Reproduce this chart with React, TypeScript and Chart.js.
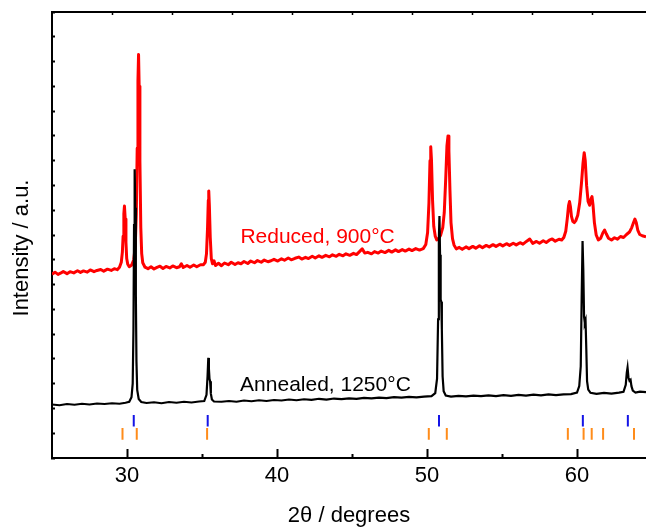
import React, { useEffect, useRef } from 'react';
import { Chart, registerables } from 'chart.js';

Chart.register(...registerables);

const FONT = '"Liberation Sans", Arial, Helvetica, sans-serif';

// Axis ranges and tick values
const X_MIN = 25;
const X_MAX = 64.6;
const Y_MIN = 0;
const Y_MAX = 18;
const majorXTicks = [30, 40, 50, 60];
const minorXTicks = [35, 45, 55];
const topXTicks = [29, 33, 37, 41, 45, 49, 53, 57, 61];
const leftYTicks = [0, 1, 2, 3, 4, 5, 6, 7, 8, 9, 10, 11, 12, 13, 14, 15, 16, 17, 18];

// Annealed, 1250°C pattern: [2θ, intensity]
const annealed: [number, number][] = [
  [25.0, 2.16], [25.5, 2.13], [26.0, 2.18], [26.5, 2.15], [27.0, 2.19], [27.5, 2.16], [28.0, 2.2], [28.5, 2.18],
  [29.0, 2.21], [29.5, 2.19], [29.9, 2.23], [30.15, 2.27], [30.3, 2.45], [30.38, 3.0], [30.43, 5.2], [30.47, 9.4],
  [30.51, 11.65], [30.55, 10.1], [30.59, 6.6], [30.63, 3.9], [30.68, 2.75], [30.78, 2.38], [30.95, 2.26], [31.3, 2.22],
  [31.8, 2.25], [32.3, 2.21], [32.8, 2.26], [33.3, 2.23], [33.8, 2.27], [34.3, 2.24], [34.8, 2.28], [35.15, 2.3],
  [35.3, 2.55], [35.37, 3.3], [35.42, 4.04], [35.46, 3.6], [35.5, 3.2], [35.54, 3.1], [35.59, 2.6], [35.66, 2.36],
  [35.8, 2.28], [36.3, 2.27], [36.8, 2.3], [37.3, 2.27], [37.8, 2.32], [38.3, 2.29], [38.8, 2.33], [39.3, 2.3],
  [39.8, 2.34], [40.3, 2.32], [40.8, 2.36], [41.3, 2.33], [41.8, 2.37], [42.3, 2.35], [42.8, 2.39], [43.3, 2.36],
  [43.8, 2.4], [44.3, 2.38], [44.8, 2.41], [45.3, 2.39], [45.8, 2.43], [46.3, 2.41], [46.8, 2.44], [47.3, 2.42],
  [47.8, 2.46], [48.3, 2.44], [48.8, 2.47], [49.3, 2.45], [49.8, 2.48], [50.3, 2.5], [50.55, 2.62], [50.67, 3.2],
  [50.74, 5.6], [50.79, 8.8], [50.83, 9.77], [50.87, 8.2], [50.91, 6.4], [50.95, 6.31], [50.99, 5.2], [51.04, 3.3],
  [51.11, 2.7], [51.25, 2.52], [51.6, 2.48], [52.1, 2.51], [52.6, 2.49], [53.1, 2.52], [53.6, 2.5], [54.1, 2.53],
  [54.6, 2.5], [55.1, 2.54], [55.6, 2.51], [56.1, 2.55], [56.6, 2.52], [57.1, 2.56], [57.6, 2.53], [58.1, 2.57],
  [58.6, 2.54], [59.1, 2.57], [59.6, 2.58], [60.0, 2.64], [60.15, 2.9], [60.25, 3.7], [60.31, 6.4], [60.37, 8.76],
  [60.42, 7.6], [60.47, 5.7], [60.52, 5.45], [60.57, 5.55], [60.62, 4.4], [60.67, 3.1], [60.75, 2.76], [60.9, 2.63],
  [61.3, 2.59], [61.8, 2.63], [62.3, 2.6], [62.8, 2.64], [63.1, 2.67], [63.25, 2.95], [63.32, 3.45], [63.37, 3.65],
  [63.43, 3.25], [63.5, 3.12], [63.57, 3.16], [63.63, 2.9], [63.72, 2.72], [63.9, 2.64], [64.2, 2.68], [64.6, 2.66],
];

// Reduced, 900°C pattern: [2θ, intensity]
const reduced: [number, number][] = [
  [25.0, 7.42], [25.2, 7.5], [25.4, 7.41], [25.6, 7.47], [25.75, 7.53], [26.0, 7.44], [26.2, 7.52], [26.45, 7.47],
  [26.7, 7.56], [26.9, 7.49], [27.1, 7.55], [27.35, 7.5], [27.55, 7.59], [27.8, 7.52], [28.0, 7.57], [28.25, 7.61],
  [28.45, 7.54], [28.7, 7.62], [28.95, 7.57], [29.15, 7.64], [29.35, 7.6], [29.5, 7.7], [29.62, 7.9], [29.69, 8.3],
  [29.74, 8.95], [29.79, 9.85], [29.83, 10.17], [29.88, 9.65], [29.93, 8.7], [29.98, 8.05], [30.05, 7.82], [30.15, 7.72],
  [30.3, 7.78], [30.45, 8.0], [30.55, 8.55], [30.62, 9.85], [30.68, 12.5], [30.73, 15.2], [30.77, 16.28], [30.81, 15.0],
  [30.86, 12.0], [30.92, 9.3], [30.98, 8.25], [31.05, 7.88], [31.2, 7.7], [31.4, 7.64], [31.6, 7.72], [31.8, 7.63],
  [32.0, 7.69], [32.2, 7.74], [32.4, 7.65], [32.6, 7.73], [32.85, 7.67], [33.05, 7.75], [33.3, 7.68], [33.5, 7.72],
  [33.62, 7.84], [33.75, 7.69], [34.0, 7.77], [34.2, 7.7], [34.45, 7.79], [34.65, 7.72], [34.9, 7.8], [35.1, 7.8],
  [35.22, 7.9], [35.3, 8.25], [35.37, 9.3], [35.42, 10.4], [35.45, 10.78], [35.49, 10.2], [35.55, 8.9], [35.62, 8.05],
  [35.7, 7.84], [35.8, 7.96], [35.9, 7.77], [36.1, 7.86], [36.3, 7.76], [36.5, 7.87], [36.75, 7.8], [36.95, 7.9],
  [37.2, 7.81], [37.4, 7.88], [37.6, 7.84], [37.8, 7.93], [38.05, 7.85], [38.25, 7.95], [38.5, 7.88], [38.7, 7.97],
  [38.95, 7.9], [39.15, 7.99], [39.4, 7.92], [39.6, 7.96], [39.8, 8.02], [40.05, 7.95], [40.3, 8.04], [40.5, 7.98],
  [40.75, 8.07], [40.95, 8.0], [41.2, 8.06], [41.45, 8.11], [41.65, 8.03], [41.9, 8.1], [42.1, 8.05], [42.35, 8.14],
  [42.55, 8.07], [42.8, 8.16], [43.0, 8.1], [43.25, 8.18], [43.5, 8.12], [43.7, 8.2], [43.95, 8.14], [44.15, 8.22],
  [44.4, 8.16], [44.6, 8.24], [44.85, 8.18], [45.1, 8.26], [45.3, 8.21], [45.5, 8.33], [45.68, 8.44], [45.85, 8.27],
  [46.05, 8.3], [46.3, 8.24], [46.5, 8.33], [46.75, 8.27], [46.95, 8.35], [47.2, 8.29], [47.45, 8.38], [47.65, 8.31],
  [47.9, 8.4], [48.1, 8.33], [48.35, 8.41], [48.55, 8.35], [48.8, 8.43], [49.0, 8.37], [49.25, 8.45], [49.5, 8.39],
  [49.75, 8.45], [49.92, 8.62], [50.04, 9.1], [50.13, 10.3], [50.2, 12.0], [50.25, 12.56], [50.3, 12.0], [50.37, 10.4],
  [50.45, 9.35], [50.55, 8.95], [50.65, 8.8], [50.75, 8.84], [50.9, 8.98], [51.05, 9.3], [51.15, 9.9], [51.25, 11.3],
  [51.33, 12.6], [51.4, 13.0], [51.46, 12.4], [51.53, 10.8], [51.6, 9.5], [51.7, 8.85], [51.8, 8.6], [51.95, 8.44],
  [52.15, 8.5], [52.35, 8.42], [52.6, 8.52], [52.8, 8.45], [53.05, 8.54], [53.25, 8.47], [53.5, 8.57], [53.7, 8.49],
  [53.95, 8.58], [54.15, 8.52], [54.4, 8.61], [54.6, 8.54], [54.85, 8.63], [55.05, 8.56], [55.3, 8.65], [55.5, 8.58],
  [55.75, 8.67], [55.95, 8.6], [56.2, 8.69], [56.4, 8.63], [56.65, 8.75], [56.85, 8.84], [57.05, 8.66], [57.3, 8.74],
  [57.5, 8.67], [57.75, 8.77], [57.95, 8.7], [58.15, 8.79], [58.35, 8.84], [58.55, 8.75], [58.8, 8.83], [58.98, 8.8],
  [59.12, 8.9], [59.25, 9.15], [59.35, 9.65], [59.44, 10.2], [59.5, 10.35], [59.56, 10.15], [59.63, 9.75], [59.72, 9.55],
  [59.82, 9.5], [59.92, 9.58], [60.05, 9.8], [60.18, 10.3], [60.3, 11.1], [60.4, 11.9], [60.48, 12.32], [60.55, 12.0],
  [60.64, 11.0], [60.74, 10.35], [60.84, 10.2], [60.93, 10.45], [61.0, 10.55], [61.07, 10.2], [61.16, 9.5], [61.28, 9.0],
  [61.42, 8.8], [61.58, 8.87], [61.72, 9.08], [61.84, 9.2], [61.95, 9.05], [62.1, 8.87], [62.3, 8.8], [62.5, 8.89],
  [62.7, 8.83], [62.9, 8.94], [63.1, 8.9], [63.3, 9.02], [63.5, 9.12], [63.65, 9.3], [63.77, 9.5], [63.86, 9.64],
  [63.95, 9.5], [64.05, 9.2], [64.18, 9.02], [64.35, 8.97], [64.6, 8.93],
];

// Reference reflection positions (2θ) for the two phases, and the intensity band of their markers
const phaseBluePositions = [30.45, 35.38, 50.8, 60.39, 63.39];
const phaseOrangePositions = [29.7, 30.65, 35.34, 50.12, 51.32, 59.39, 60.44, 60.98, 61.74, 63.8];
const phaseBlueBand = [1.27, 1.74];
const phaseOrangeBand = [0.74, 1.21];

// In-plot text labels (anchor in data coordinates: 2θ, intensity)
const seriesLabels = [
  { text: 'Reduced, 900°C', angle: 37.56, level: 8.69, color: '#ff0000' },
  { text: 'Annealed, 1250°C', angle: 37.54, level: 2.72, color: '#000000' },
];
const xTitle = '2θ / degrees';
const yTitle = 'Intensity / a.u.';

const toPoints = (arr: [number, number][]) => arr.map(([x, y]) => ({ x, y }));
const toMarkers = (positions: number[], band: number[]) =>
  positions.flatMap((p) => [
    { x: p, y: band[0] },
    { x: p, y: band[1] },
    { x: p, y: null as any },
  ]);

const textPlugin = {
  id: 'xrdText',
  afterDatasetsDraw(chart: any) {
    const { ctx, scales } = chart;
    const xs = scales.x;
    const ys = scales.y;
    ctx.save();
    ctx.font = `21px ${FONT}`;
    ctx.textAlign = 'left';
    ctx.textBaseline = 'alphabetic';
    for (const l of seriesLabels) {
      ctx.fillStyle = l.color;
      ctx.fillText(l.text, xs.getPixelForValue(l.angle), ys.getPixelForValue(l.level));
    }
    ctx.restore();
  },
  afterDraw(chart: any) {
    const { ctx, chartArea } = chart;
    ctx.save();
    ctx.fillStyle = '#000';
    ctx.font = `22px ${FONT}`;
    ctx.textAlign = 'center';
    ctx.textBaseline = 'alphabetic';
    ctx.fillText(xTitle, (chartArea.left + chartArea.right) / 2, chartArea.bottom + 64);
    ctx.translate(22, (chartArea.top + chartArea.bottom) / 2 + 13);
    ctx.rotate(-Math.PI / 2);
    ctx.textBaseline = 'middle';
    ctx.fillText(yTitle, 0, 0);
    ctx.restore();
  },
};

export default function App() {
  const ref = useRef<HTMLCanvasElement>(null);

  useEffect(() => {
    if (!ref.current) return;
    Chart.defaults.font.family = FONT;
    const chart = new Chart(ref.current, {
      type: 'scatter',
      data: {
        datasets: [
          {
            label: 'Annealed, 1250°C',
            data: toPoints(annealed),
            showLine: true,
            borderColor: '#000000',
            borderWidth: 2.2,
            pointRadius: 0,
            tension: 0,
          },
          {
            label: 'Reduced, 900°C',
            data: toPoints(reduced),
            showLine: true,
            borderColor: '#ff0000',
            borderWidth: 3,
            borderJoinStyle: 'round',
            pointRadius: 0,
            tension: 0,
          },
          {
            label: 'phase A',
            data: toMarkers(phaseBluePositions, phaseBlueBand),
            showLine: true,
            spanGaps: false,
            borderColor: '#1414e6',
            borderWidth: 2,
            pointRadius: 0,
          },
          {
            label: 'phase B',
            data: toMarkers(phaseOrangePositions, phaseOrangeBand),
            showLine: true,
            spanGaps: false,
            borderColor: '#ff8c1a',
            borderWidth: 2,
            pointRadius: 0,
          },
        ] as any,
      },
      options: {
        animation: false,
        responsive: false,
        devicePixelRatio: 1,
        layout: { padding: 0 },
        plugins: { legend: { display: false }, tooltip: { enabled: false } },
        scales: {
          x: {
            type: 'linear',
            position: 'bottom',
            weight: 1,
            min: X_MIN,
            max: X_MAX,
            afterBuildTicks: (s: any) => {
              s.ticks = majorXTicks.map((v) => ({ value: v }));
            },
            afterFit: (s: any) => {
              s.height = 72;
            },
            ticks: {
              color: '#000',
              font: { size: 22, family: FONT },
              padding: 14,
              maxRotation: 0,
              autoSkip: false,
            },
            grid: {
              drawOnChartArea: false,
              drawTicks: true,
              tickLength: -9,
              tickWidth: 2,
              color: '#000',
            },
            border: { display: true, color: '#000', width: 2 },
          },
          xMinor: {
            type: 'linear',
            axis: 'x',
            position: 'bottom',
            weight: 0,
            min: X_MIN,
            max: X_MAX,
            afterBuildTicks: (s: any) => {
              s.ticks = minorXTicks.map((v) => ({ value: v }));
            },
            afterFit: (s: any) => {
              s.height = 0;
            },
            ticks: { display: false },
            grid: {
              drawOnChartArea: false,
              drawTicks: true,
              tickLength: -4,
              tickWidth: 2,
              color: '#000',
            },
            border: { display: false },
          },
          xTop: {
            type: 'linear',
            axis: 'x',
            position: 'top',
            min: X_MIN,
            max: X_MAX,
            afterBuildTicks: (s: any) => {
              s.ticks = topXTicks.map((v) => ({ value: v }));
            },
            afterFit: (s: any) => {
              s.height = 12;
            },
            ticks: { display: false },
            grid: {
              drawOnChartArea: false,
              drawTicks: true,
              tickLength: -3,
              tickWidth: 1.5,
              color: '#000',
            },
            border: { display: true, color: '#000', width: 2 },
          },
          y: {
            type: 'linear',
            position: 'left',
            min: Y_MIN,
            max: Y_MAX,
            afterBuildTicks: (s: any) => {
              s.ticks = leftYTicks.map((v) => ({ value: v }));
            },
            afterFit: (s: any) => {
              s.width = 52;
            },
            ticks: { display: false },
            grid: {
              drawOnChartArea: false,
              drawTicks: true,
              tickLength: -3,
              tickWidth: 2,
              color: '#000',
            },
            border: { display: true, color: '#000', width: 2 },
          },
        },
      } as any,
      plugins: [textPlugin],
    });
    return () => chart.destroy();
  }, []);

  return (
    <div style={{ position: 'absolute', left: 0, top: 0, width: 646, height: 530 }}>
      <canvas ref={ref} width={646} height={530} style={{ display: 'block' }} />
    </div>
  );
}
